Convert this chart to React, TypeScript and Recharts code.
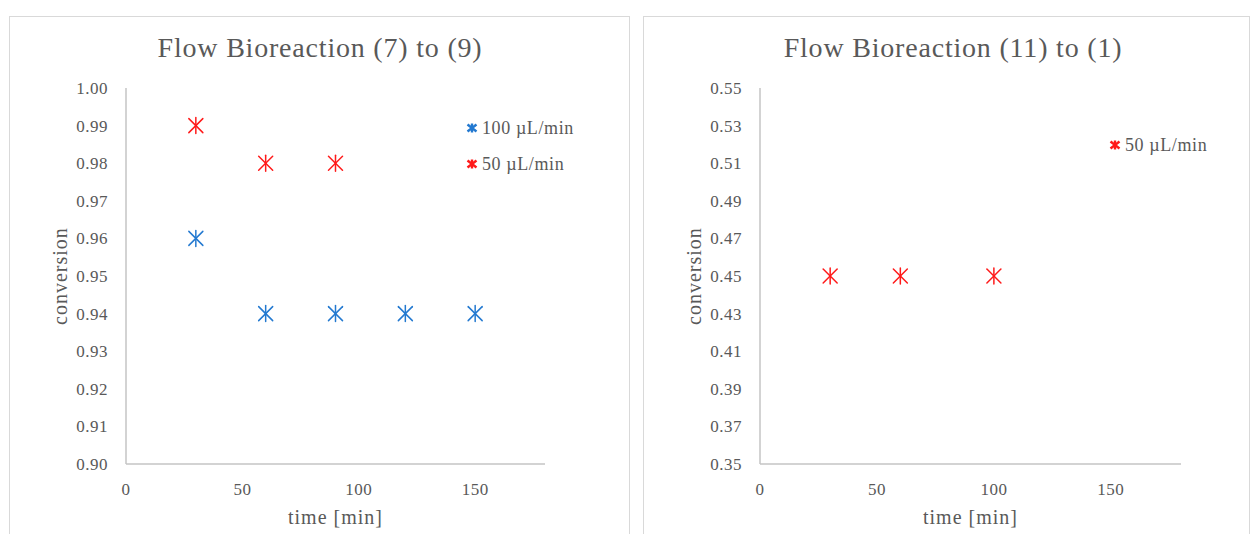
import React from "react";
import {
  Label,
  Legend,
  Scatter,
  ScatterChart,
  XAxis,
  YAxis,
} from "recharts";

// left chart: Flow Bioreaction (7) to (9)
const timesFast = [30, 60, 90, 120, 150];
const convFast = [0.96, 0.94, 0.94, 0.94, 0.94];
const timesSlow = [30, 60, 90];
const convSlow = [0.99, 0.98, 0.98];

// right chart: Flow Bioreaction (11) to (1)
const timesRight = [30, 60, 100];
const convRight = [0.45, 0.45, 0.45];

const xTicks = [0, 50, 100, 150];
const yTicksLeft = [0.9, 0.91, 0.92, 0.93, 0.94, 0.95, 0.96, 0.97, 0.98, 0.99, 1.0];
const yTicksRight = [0.35, 0.37, 0.39, 0.41, 0.43, 0.45, 0.47, 0.49, 0.51, 0.53, 0.55];

const BLUE = "#2379D0";
const RED = "#FF1A1A";
const TEXT = "#595959";
const FONT = "'Liberation Serif', 'Times New Roman', serif";

const toPoints = (xs: number[], ys: number[]) =>
  xs.map((x, i) => ({ time: x, conversion: ys[i] }));

interface SeriesDef {
  name: string;
  color: string;
  data: { time: number; conversion: number }[];
}

function Asterisk(props: any) {
  const { cx, cy, fill } = props;
  if (cx == null || cy == null) return null;
  return (
    <g stroke={fill} strokeWidth={1.5} strokeLinecap="round">
      <line x1={cx} y1={cy - 8} x2={cx} y2={cy + 8} />
      <line x1={cx - 7} y1={cy - 7} x2={cx + 7} y2={cy + 7} />
      <line x1={cx - 7} y1={cy + 7} x2={cx + 7} y2={cy - 7} />
    </g>
  );
}

function LegendMark({ color }: { color: string }) {
  return (
    <svg width={12} height={12} style={{ marginRight: 4 }}>
      <g stroke={color} strokeWidth={2.4}>
        <line x1={6} y1={1.5} x2={6} y2={10.5} />
        <line x1={1.5} y1={2.5} x2={10.5} y2={9.5} />
        <line x1={1.5} y1={9.5} x2={10.5} y2={2.5} />
      </g>
    </svg>
  );
}

interface PanelProps {
  left: number;
  width: number;
  plotRight: number;
  title: string;
  titleCenter: number;
  yTicks: number[];
  series: SeriesDef[];
  legendTop: number;
  legendLeft: number;
}

function Panel({
  left,
  width,
  plotRight,
  title,
  titleCenter,
  yTicks,
  series,
  legendTop,
  legendLeft,
}: PanelProps) {
  const height = 518;
  return (
    <>
      <div
        style={{
          position: "absolute",
          left,
          top: 16,
          width,
          height: 540,
          border: "1.5px solid #d9d9d9",
          boxSizing: "border-box",
        }}
      />
      <div
        style={{
          position: "absolute",
          left: titleCenter - 250,
          width: 500,
          top: 32,
          textAlign: "center",
          fontFamily: FONT,
          fontSize: 28,
          letterSpacing: 0.8,
          color: TEXT,
          lineHeight: "32px",
        }}
      >
        {title}
      </div>
      <div style={{ position: "absolute", left, top: 16 }}>
        <ScatterChart
          width={width}
          height={height}
          margin={{ top: 72, right: plotRight, bottom: 40, left: 0 }}
        >
          <XAxis
            type="number"
            dataKey="time"
            domain={[0, 180]}
            ticks={xTicks}
            tickLine={false}
            tickSize={0}
            tickMargin={19}
            height={30}
            stroke="#c4c4c4"
            strokeWidth={1.5}
            tick={{ fill: TEXT, fontSize: 17, fontFamily: FONT, letterSpacing: 0.5 }}
          >
            <Label
              value="time [min]"
              position="bottom"
              offset={16}
              style={{ fill: TEXT, fontSize: 20, letterSpacing: 1, fontFamily: FONT }}
            />
          </XAxis>
          <YAxis
            type="number"
            dataKey="conversion"
            domain={[yTicks[0], yTicks[yTicks.length - 1]]}
            ticks={yTicks}
            interval={0}
            width={117}
            tickLine={false}
            tickSize={0}
            tickMargin={18}
            stroke="#c4c4c4"
            strokeWidth={1.5}
            tickFormatter={(v: number) => v.toFixed(2)}
            tick={{ fill: TEXT, fontSize: 17, fontFamily: FONT, letterSpacing: 0.5 }}
          >
            <Label
              value="conversion"
              angle={-90}
              position="insideLeft"
              offset={51}
              style={{
                fill: TEXT,
                fontSize: 20,
                letterSpacing: 1,
                fontFamily: FONT,
                textAnchor: "middle",
              }}
            />
          </YAxis>
          {series.map((s) => (
            <Scatter
              key={s.name}
              name={s.name}
              data={s.data}
              fill={s.color}
              shape={<Asterisk />}
              isAnimationActive={false}
            />
          ))}
          <Legend
            layout="vertical"
            align="center"
            verticalAlign="middle"
            wrapperStyle={{ position: "absolute", top: legendTop, left: legendLeft, width: 160 }}
            content={() => (
              <div>
                {series.map((s) => (
                  <div
                    key={s.name}
                    style={{
                      display: "flex",
                      alignItems: "center",
                      height: 36,
                      fontFamily: FONT,
                      fontSize: 18,
                      letterSpacing: 0.6,
                      color: TEXT,
                    }}
                  >
                    <LegendMark color={s.color} />
                    <span>{s.name}</span>
                  </div>
                ))}
              </div>
            )}
          />
        </ScatterChart>
      </div>
    </>
  );
}

export default function App() {
  const leftSeries: SeriesDef[] = [
    { name: "100 µL/min", color: BLUE, data: toPoints(timesFast, convFast) },
    { name: "50 µL/min", color: RED, data: toPoints(timesSlow, convSlow) },
  ];
  const rightSeries: SeriesDef[] = [
    { name: "50 µL/min", color: RED, data: toPoints(timesRight, convRight) },
  ];
  return (
    <div
      style={{
        position: "absolute",
        left: 0,
        top: 0,
        width: 1253,
        height: 534,
        background: "#fff",
        overflow: "hidden",
      }}
    >
      <Panel
        left={9}
        width={621}
        plotRight={85}
        title="Flow Bioreaction (7) to (9)"
        titleCenter={320}
        yTicks={yTicksLeft}
        series={leftSeries}
        legendTop={94}
        legendLeft={457}
      />
      <Panel
        left={643}
        width={607}
        plotRight={69}
        title="Flow Bioreaction (11) to (1)"
        titleCenter={953}
        yTicks={yTicksRight}
        series={rightSeries}
        legendTop={111}
        legendLeft={466}
      />
    </div>
  );
}
